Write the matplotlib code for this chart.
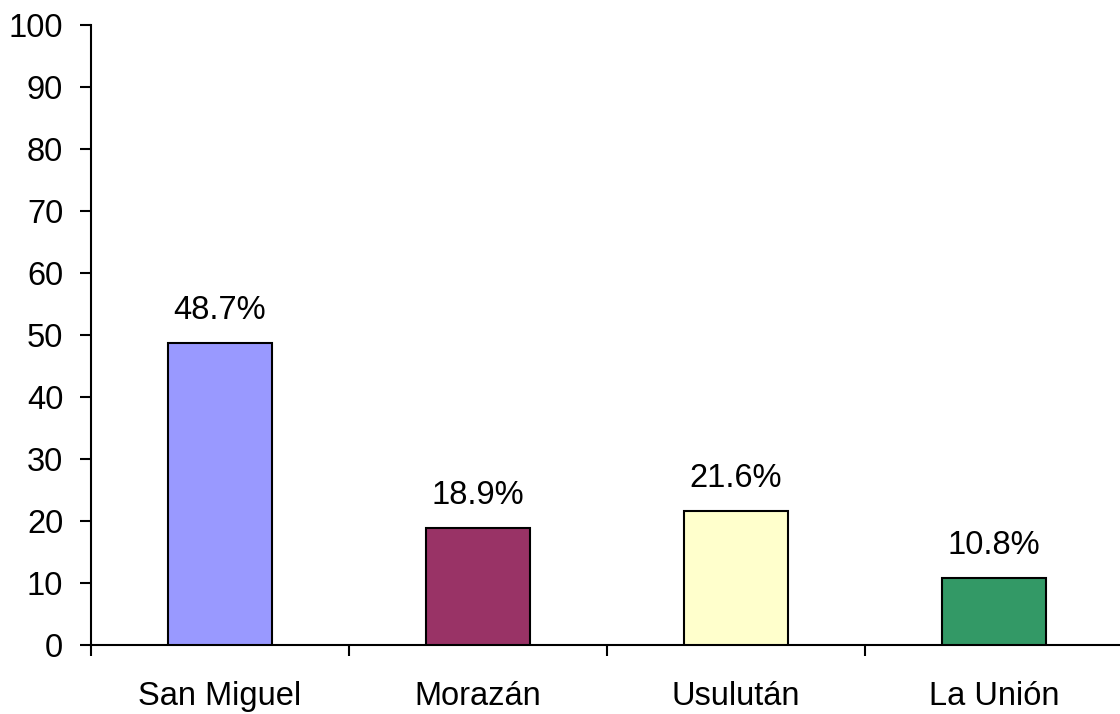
import matplotlib
matplotlib.use("Agg")
import matplotlib.pyplot as plt

categories = ["San Miguel", "Morazán", "Usulután", "La Unión"]
values = [48.7, 18.9, 21.6, 10.8]
labels = ["48.7%", "18.9%", "21.6%", "10.8%"]
colors = ["#9999FF", "#993366", "#FFFFCC", "#339966"]
yticks = [0, 10, 20, 30, 40, 50, 60, 70, 80, 90, 100]

plt.rcParams['font.family'] = ['Liberation Sans', 'DejaVu Sans']
fig = plt.figure(figsize=(11.2, 7.14), dpi=100)
W, H = 1120, 714
ax = fig.add_axes([91 / W, (H - 645) / H, (1123 - 91) / W, 620 / H])

x = range(len(categories))
bars = ax.bar(x, values, width=0.4, color=colors, edgecolor="black", linewidth=1.5, zorder=3)
for xi, v, lab in zip(x, values, labels):
    ax.annotate(lab, (xi, v), xytext=(0, 12), textcoords="offset points",
                ha="center", va="bottom", fontsize=23.5)

ax.set_xlim(-0.5, len(categories) - 0.5)
ax.set_ylim(0, 100)
ax.set_yticks(yticks)
ax.set_yticklabels([str(t) for t in yticks], fontsize=23.5)
ax.set_xticks([i - 0.5 for i in range(len(categories) + 1)])
ax.set_xticklabels([])
ax.set_xticks(list(x), minor=True)
ax.set_xticklabels(categories, minor=True, fontsize=23.5)
ax.tick_params(axis="x", which="minor", length=0, pad=26)
ax.tick_params(axis="x", which="major", direction="out", length=8, width=1.5)
ax.tick_params(axis="y", direction="out", length=8, width=1.5, pad=12)
for s in ["top", "right"]:
    ax.spines[s].set_visible(False)
for s in ["left", "bottom"]:
    ax.spines[s].set_linewidth(1.5)

fig.savefig("out.png", dpi=100)
